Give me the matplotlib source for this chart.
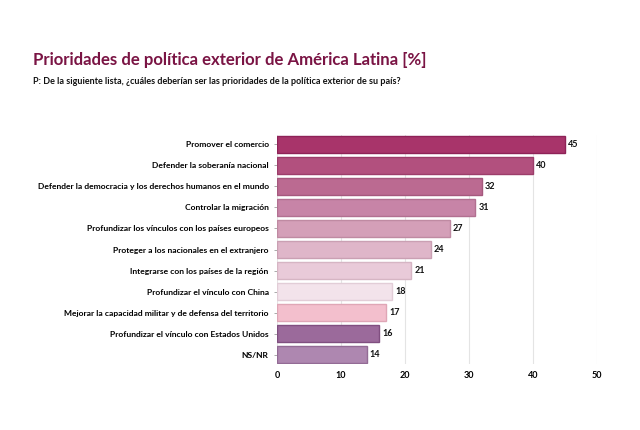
import matplotlib

matplotlib.use("Agg")

import matplotlib.pyplot as plt

CATEGORIES = [
    "Promover el comercio",
    "Defender la soberanía nacional",
    "Defender la democracia y los derechos humanos en el mundo",
    "Controlar la migración",
    "Profundizar los vínculos con los países europeos",
    "Proteger a los nacionales en el extranjero",
    "Integrarse con los países de la región",
    "Profundizar el vínculo con China",
    "Mejorar la capacidad militar y de defensa del territorio",
    "Profundizar el vínculo con Estados Unidos",
    "NS/NR",
]
VALUES = [45, 40, 32, 31, 27, 24, 21, 18, 17, 16, 14]
COLORS = [
    "#a8346a", "#b2507e", "#bb6a91", "#c784a7", "#d49fb8", "#dfb6c9",
    "#e9cad9", "#f3e3eb", "#f3bfcd", "#9b6a9b", "#ae87b0",
]
EDGES = [
    "#8e2257", "#9c3d6a", "#a5587d", "#b27091", "#bf8aa2", "#caa0b3",
    "#d6b5c4", "#e2cdd7", "#dfa6b6", "#804f80", "#936b95",
]

plt.rcParams["font.family"] = ["Lato", "DejaVu Sans"]

fig = plt.figure(figsize=(6.4, 4.3), dpi=100)
ax = fig.add_axes([277 / 640, 1 - 364 / 430, 320 / 640, 229 / 430])

pos = list(range(len(VALUES)))
ax.barh(pos, VALUES, height=0.8, color=COLORS, edgecolor=EDGES, linewidth=1.0, zorder=3)
for y, v in zip(pos, VALUES):
    ax.text(v + 0.5, y, str(v), va="center", ha="left", fontsize=6.5, fontweight="bold", color="#111111")

ax.set_xlim(0, 50)
ax.set_ylim(10.45, -0.45)
ax.set_xticks([0, 10, 20, 30, 40, 50])
ax.set_yticks(pos)
ax.set_yticklabels(CATEGORIES, fontsize=6.1, fontweight="bold")
for lab in ax.get_xticklabels():
    lab.set_fontsize(6.5)
    lab.set_fontweight("bold")
ax.tick_params(axis="y", length=2, width=0.5, color="#888888", pad=4)
ax.tick_params(axis="x", length=0, pad=5)
ax.grid(axis="x", color="#e4e4e4", linewidth=0.8, zorder=0)
for s in ax.spines.values():
    s.set_visible(False)

fig.text(33 / 640, 1 - 60 / 430, "Prioridades de política exterior de América Latina [%]",
         fontsize=12.1, fontweight="bold", color="#7a1444", va="center")
fig.text(33 / 640, 1 - 82 / 430,
         "P: De la siguiente lista, ¿cuáles deberían ser las prioridades de la política exterior de su país?",
         fontsize=6.5, fontweight="bold", color="#111111", va="center")

fig.savefig("out.png", dpi=100)
